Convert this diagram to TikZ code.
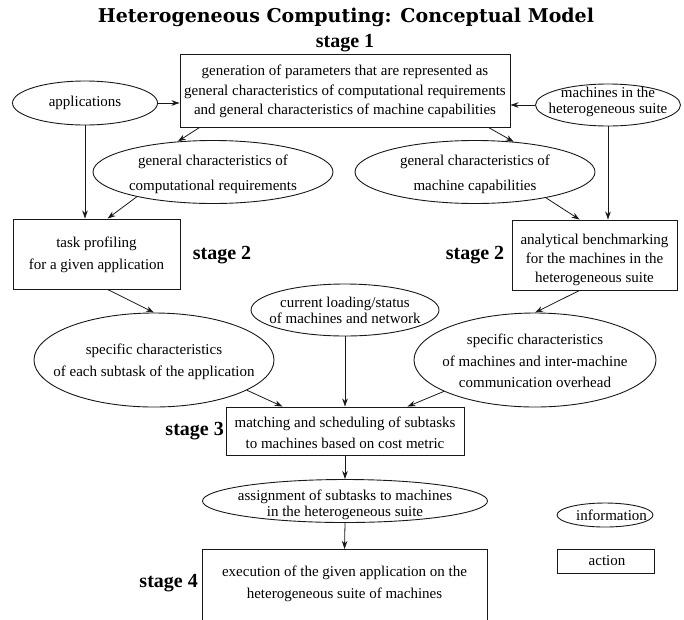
\documentclass[tikz,border=0pt]{standalone}
\usepackage{fontspec}
\setmainfont{Liberation Serif}
\newfontfamily\titlefont{DejaVu Serif}
\usetikzlibrary{shapes.geometric,arrows.meta,calc}
\begin{document}
\begin{tikzpicture}[x=1pt,y=-1pt,
  info/.style={ellipse,draw=black!90,line width=0.9pt,inner sep=0pt},
  act/.style={rectangle,draw=black!90,line width=0.9pt,inner sep=0pt},
  arr/.style={-{Stealth[length=8pt,width=5.5pt,inset=2.5pt]},line width=0.8pt,draw=black!90},
  txt/.style={align=center,inner sep=0pt,font=\fontsize{15}{#1}\selectfont},
  txt/.default=19.5,
  stagelbl/.style={font=\fontsize{20}{24}\selectfont\bfseries,inner sep=0pt}]
\useasboundingbox (0,0) rectangle (684,619);
\clip (0,0) rectangle (684,619);

\node[font=\titlefont\bfseries\fontsize{19}{22}\selectfont,inner sep=0pt] (title) at (346,17) {Heterogeneous Computing: Conceptual Model};
\node[stagelbl] (s1) at (345,43) {stage 1};

\node[act,minimum width=330pt,minimum height=73pt] (top) at (345,90.5) {};
\node[txt] (topt) at (345,91.5) {generation of parameters that are represented as\\general characteristics of computational requirements\\and general characteristics of machine capabilities};

\node[info,minimum width=145pt,minimum height=44pt] (app) at (85,103) {};
\node[txt] (appt) at (85,103) {applications};
\node[info,minimum width=145pt,minimum height=42pt] (mach) at (608,105) {};
\node[txt=16] (macht) at (608,102) {machines in the\\heterogeneous suite};

\node[info,minimum width=240pt,minimum height=63pt] (comp) at (213,172) {};
\node[txt=25] (compt) at (213,174) {general characteristics of\\computational requirements};
\node[info,minimum width=240pt,minimum height=63pt] (cap) at (475,172) {};
\node[txt=25] (capt) at (475,174) {general characteristics of\\machine capabilities};

\node[act,minimum width=167pt,minimum height=70pt] (lbox) at (96.5,254) {};
\node[txt=22] (lboxt) at (96.5,255) {task profiling\\for a given application};
\node[act,minimum width=165pt,minimum height=70pt] (rbox) at (594.5,255) {};
\node[txt=19] (rboxt) at (594.5,260) {analytical benchmarking\\for the machines in the\\heterogeneous suite};

\node[stagelbl] (s2l) at (222,255) {stage 2};
\node[stagelbl] (s2r) at (475,255) {stage 2};

\node[info,minimum width=188pt,minimum height=52pt] (curr) at (345,310) {};
\node[txt=16.5] (currt) at (345,310.5) {current loading/status\\of machines and network};

\node[info,minimum width=240pt,minimum height=94pt] (specl) at (154,360) {};
\node[txt=22] (speclt) at (154,362) {specific characteristics\\of each subtask of the application};
\node[info,minimum width=242pt,minimum height=94pt] (specr) at (535,360) {};
\node[txt=21.5] (specrt) at (535,361) {specific characteristics\\of machines and inter-machine\\communication overhead};

\node[act,minimum width=238pt,minimum height=48pt] (match) at (345,431) {};
\node[txt=21] (matcht) at (345,432.5) {matching and scheduling of subtasks\\to machines based on cost metric};
\node[stagelbl,anchor=east] (s3) at (224,431) {stage 3};

\node[info,minimum width=285pt,minimum height=43pt] (assign) at (345,501) {};
\node[txt=16] (assignt) at (345,505) {assignment of subtasks to machines\\in the heterogeneous suite};

\node[act,minimum width=285pt,minimum height=90pt,anchor=north] (exec) at (344.5,549) {};
\node[txt=22] (exect) at (344.5,584) {execution of the given application on the\\heterogeneous suite of machines};
\node[stagelbl,anchor=east] (s4) at (198,583) {stage 4};

\node[info,minimum width=96pt,minimum height=24pt] (leginfo) at (605,515) {};
\node[txt] (leginfot) at (611.5,515) {information};
\node[act,minimum width=97pt,minimum height=24pt] (legact) at (605.5,561) {};
\node[txt] (legactt) at (607,561) {action};

% connectors
\draw[arr] (app.east) -- (app.east -| top.west);
\draw[arr] (mach.west) -- (mach.west -| top.east);
\draw[arr] ($(top.south west)+(20,0)$) -- (comp.139);
\draw[arr] ($(top.south east)+(-22,0)$) -- (cap.38);
\draw[arr] (app.south) -- (app.south |- lbox.north);
\draw[arr] (mach.south) -- (mach.south |- rbox.north);
\draw[arr] (comp.198) -- ($(lbox.north west)+(95,0)$);
\draw[arr] (cap.-20) -- ($(rbox.north west)+(68,0)$);
\draw[arr] ($(lbox.south west)+(95,0)$) -- (specl.north);
\draw[arr] ($(rbox.south west)+(68,0)$) -- (specr.north);
\draw[arr] (specl.-18) -- ($(match.north west)+(57,0)$);
\draw[arr] (curr.south) -- (curr.south |- match.north);
\draw[arr] (specr.199) -- ($(match.north east)+(-57,0)$);
\draw[arr] (match.south) -- (assign.north);
\draw[arr] (assign.south) -- (exec.north);
\end{tikzpicture}
\end{document}
